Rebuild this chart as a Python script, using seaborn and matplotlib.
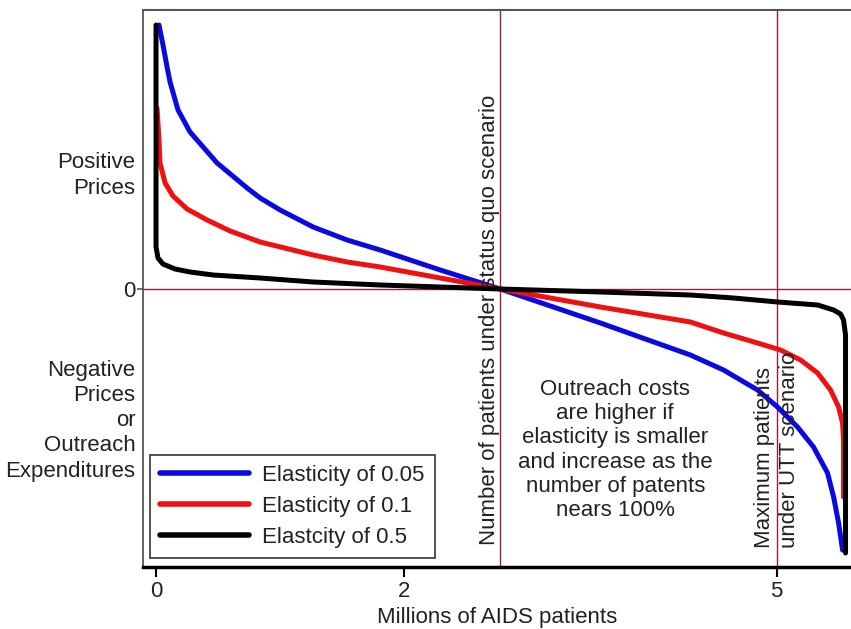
import numpy as np
import pandas as pd
import seaborn as sns
import matplotlib.pyplot as plt

# curves (x = millions of patients, y = price, 0 at crossing)
blue_x = [0.024, 0.056, 0.089, 0.113, 0.177, 0.274, 0.492, 0.734, 0.839, 1.000, 1.266, 1.540, 1.806, 2.290,
          2.774, 3.581, 4.306, 4.573, 4.847, 5.008, 5.169, 5.298, 5.411, 5.460, 5.500, 5.532]
blue_y = [2.64, 2.44, 2.22, 2.07, 1.79, 1.57, 1.26, 1.01, 0.91, 0.79, 0.62, 0.49, 0.39, 0.19,
          0.0, -0.34, -0.66, -0.81, -1.01, -1.18, -1.38, -1.58, -1.84, -2.08, -2.34, -2.61]

red_x = [0.008, 0.024, 0.032, 0.073, 0.137, 0.250, 0.411, 0.597, 0.839, 1.266, 1.540, 1.806, 2.290,
         2.774, 3.581, 4.306, 4.573, 4.847, 5.032, 5.194, 5.331, 5.435, 5.500, 5.532, 5.540, 5.540]
red_y = [1.81, 1.49, 1.26, 1.06, 0.93, 0.80, 0.69, 0.58, 0.47, 0.34, 0.27, 0.22, 0.11,
         0.0, -0.18, -0.33, -0.44, -0.54, -0.61, -0.71, -0.84, -1.01, -1.18, -1.34, -1.51, -2.08]

black_x = [0.0, 0.0, 0.0, 0.016, 0.056, 0.153, 0.274, 0.460, 0.839, 1.266, 1.806, 2.774, 3.581, 4.306,
           4.653, 5.008, 5.331, 5.460, 5.516, 5.540, 5.556, 5.556]
black_y = [2.64, 1.39, 0.42, 0.31, 0.25, 0.20, 0.17, 0.14, 0.11, 0.07, 0.04, 0.0, -0.03, -0.06,
           -0.09, -0.13, -0.16, -0.21, -0.25, -0.31, -0.46, -2.64]

series = ["Elasticity of 0.05", "Elasticity of 0.1", "Elastcity of 0.5"]
colors = ["#0a0ae0", "#f01010", "black"]

status_quo = 2.774
max_utt = 5.0

xticks = [0, 2, 5]
yticks = [1.18, 0, -1.27]
ylabels = ["Positive\nPrices", "0", "Negative\nPrices\nor\nOutreach\nExpenditures"]

note = ("Outreach costs\nare higher if\nelasticity is smaller\n"
        "and increase as the\nnumber of patents\nnears 100%")

df = pd.concat([
    pd.DataFrame({"x": blue_x, "y": blue_y, "s": series[0]}),
    pd.DataFrame({"x": red_x, "y": red_y, "s": series[1]}),
    pd.DataFrame({"x": black_x, "y": black_y, "s": series[2]}),
])

sns.set_style("white")
plt.rcParams['font.family'] = ['Liberation Sans', 'DejaVu Sans']
fs = 16

fig = plt.figure(figsize=(8.51, 6.29), dpi=100)
ax = fig.add_axes([143 / 851, 1 - 567 / 629, 1 - 143 / 851, (567 - 10) / 629])

maroon = "#9b1c3c"
ax.axhline(0, color=maroon, lw=1, zorder=1)
ax.axvline(status_quo, color=maroon, lw=1, zorder=1)
ax.axvline(max_utt, color=maroon, lw=1, zorder=1)

sns.lineplot(data=df, x="x", y="y", hue="s", hue_order=series, palette=colors,
             sort=False, estimator=None, units="s", linewidth=3.6, ax=ax, zorder=3)
for ln in ax.get_lines():
    ln.set_solid_capstyle("round")
    ln.set_solid_joinstyle("round")

ax.set_xlim(-0.105, 5.6)
ax.set_ylim(-2.78, 2.79)
ax.set_xticks(xticks)
ax.set_xticklabels([str(t) for t in xticks], fontsize=fs)
ax.set_yticks(yticks)
ax.set_yticklabels(ylabels, fontsize=fs, linespacing=1.27)
ax.set_xlabel("Millions of AIDS patients", fontsize=fs, labelpad=4, color="#222222")
ax.set_ylabel("")

ax.tick_params(axis="x", direction="out", length=7, width=1.5, color="black", pad=3, bottom=True,
               labelcolor="#222222")
ax.tick_params(axis="y", direction="out", length=4, width=1.2, color="#555555", pad=1.5, left=True,
               labelcolor="#222222")
for i, t in enumerate(ax.yaxis.get_major_ticks()):
    if i != 1:
        t.tick1line.set_visible(False)

ax.spines["right"].set_visible(False)
ax.spines["bottom"].set_linewidth(2.5)
ax.spines["bottom"].set_color("black")
ax.spines["left"].set_linewidth(1.3)
ax.spines["left"].set_color("#555555")
ax.spines["top"].set_linewidth(1.5)
ax.spines["top"].set_color("#555555")

ax.text(status_quo, -2.56, "Number of patients under status quo scenario", rotation=90,
        ha="right", va="bottom", fontsize=fs, color="#222222")
ax.text(max_utt, -2.59, "Maximum patients\nunder UTT scenario", rotation=90,
        ha="center", va="bottom", multialignment="left", fontsize=fs,
        linespacing=1.25, color="#222222")
ax.text(3.70, -1.61, note, ha="center", va="center", fontsize=fs,
        linespacing=1.2, color="#222222")

leg = ax.legend(loc="lower left", bbox_to_anchor=(0.01, 0.016), borderaxespad=0,
                fontsize=fs, handlelength=4.0, handletextpad=0.6, labelspacing=0.45,
                fancybox=False, frameon=True, edgecolor="black", borderpad=0.45)
leg.get_frame().set_linewidth(1.2)
for h in leg.get_lines():
    h.set_linewidth(4)
for t in leg.get_texts():
    t.set_color("#222222")

fig.savefig("out.png", dpi=100)
